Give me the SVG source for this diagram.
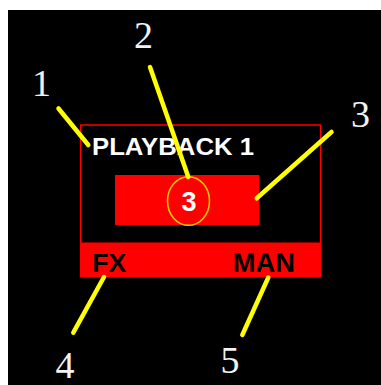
<svg xmlns="http://www.w3.org/2000/svg" width="381" height="385" viewBox="0 0 381 385">
  <style>
    .num { font-family: "Liberation Serif", "Times New Roman", serif; font-size: 38px; fill: #f2f2f2; text-anchor: middle; }
    .lbl { font-family: "Liberation Sans", Arial, sans-serif; font-weight: bold; }
    .lead { stroke: #ffff00; stroke-width: 4.5; stroke-linecap: round; fill: none; }
  </style>
  <rect x="0" y="0" width="381" height="385" fill="#ffffff"/>
  <rect x="8" y="10" width="373" height="375" fill="#000000"/>

  <g id="playback-panel">
    <rect x="80.7" y="125" width="240" height="151.7" fill="none" stroke="#ff0000" stroke-width="1.5"/>
    <text class="lbl" x="92" y="155" font-size="24.5" fill="#ffffff" textLength="162" lengthAdjust="spacingAndGlyphs">PLAYBACK 1</text>
  </g>

  <g id="fader-bar">
    <rect x="115" y="175" width="144.3" height="50" fill="#ff0000"/>
  </g>

  <g id="page-badge">
    <ellipse cx="188.5" cy="201" rx="21" ry="24.3" fill="#ff0000" stroke="#f0c800" stroke-width="1.6"/>
    <text class="lbl" x="189" y="210.5" font-size="27" fill="#ffffff" text-anchor="middle">3</text>
  </g>

  <g id="button-strip">
    <rect x="80.7" y="242.5" width="240" height="34.2" fill="#ff0000"/>
    <text class="lbl" x="92.3" y="272.3" font-size="26.5" fill="#000000">FX</text>
    <text class="lbl" x="232.7" y="272.3" font-size="27" fill="#000000" textLength="62.3" lengthAdjust="spacingAndGlyphs">MAN</text>
  </g>

  <g id="connectors">
    <line class="lead" x1="58.5" y1="108.5" x2="88.3" y2="145"/>
    <line class="lead" x1="150" y1="67" x2="188.3" y2="177"/>
    <line class="lead" x1="331.5" y1="132" x2="256.7" y2="198.3"/>
    <line class="lead" x1="104" y1="277" x2="73.3" y2="332.7"/>
    <line class="lead" x1="268.3" y1="277.5" x2="242.3" y2="335"/>
  </g>

  <g id="callouts">
    <text class="num" x="41.5" y="96">1</text>
    <text class="num" x="143.5" y="48.3">2</text>
    <text class="num" x="360.5" y="126.7">3</text>
    <text class="num" x="65" y="378">4</text>
    <text class="num" x="230" y="373">5</text>
  </g>
</svg>
